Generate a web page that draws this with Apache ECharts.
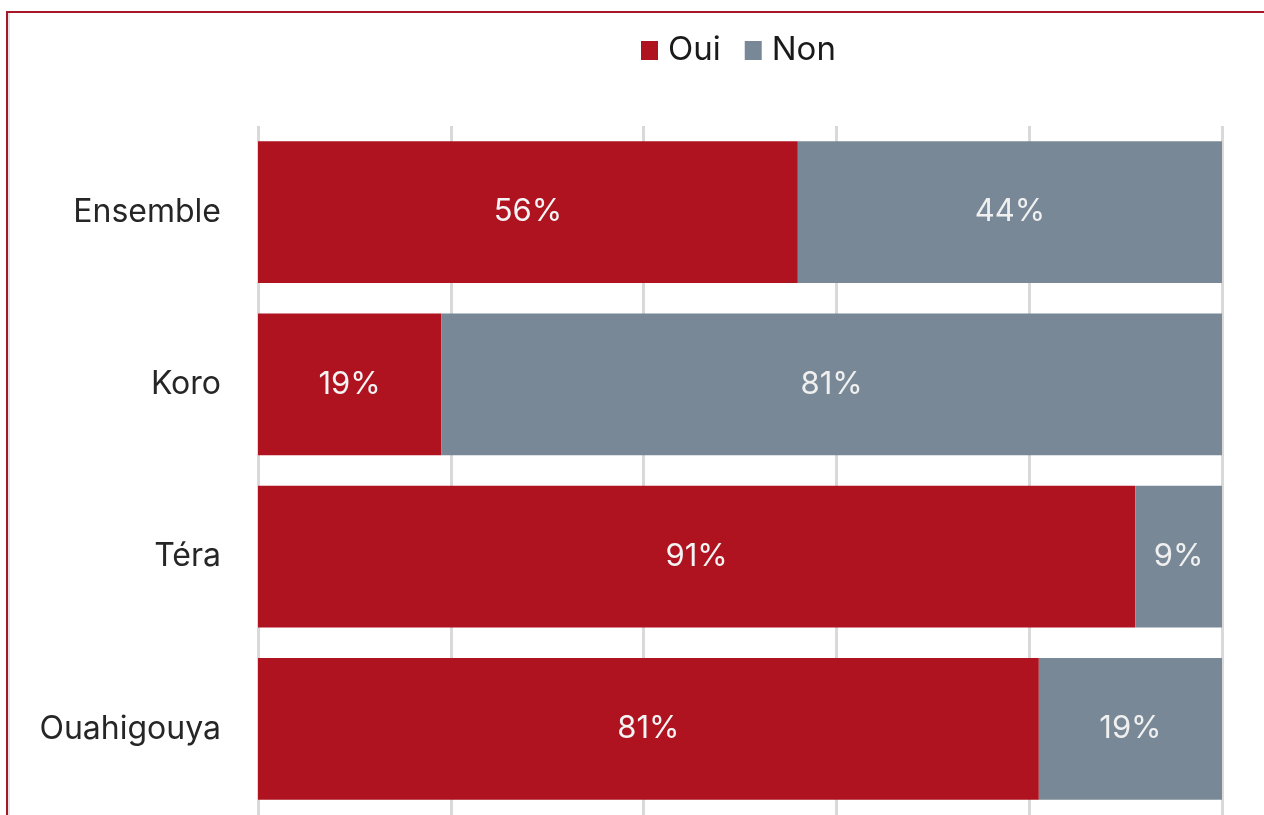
<!DOCTYPE html>
<html>
<head>
<meta charset="utf-8">
<script src="https://cdn.jsdelivr.net/npm/echarts@6/dist/echarts.min.js"></script>
<style>
	html, body { margin: 0; padding: 0; background: #fff; }
	#wrap { position: relative; width: 1264px; height: 815px; overflow: hidden; }
	#cadre { position: absolute; left: 6px; top: 11px; right: -4px; bottom: -4px;
		border-top: 2px solid #a8162a; border-left: 2px solid #a8162a; }
	#cadre2 { position: absolute; left: 8px; top: 13px; width: 2px; bottom: 0; background: #e4e4e4; }
	#ec1 { position: absolute; left: 0; top: 0; width: 1264px; height: 815px; }
</style>
</head>
<body>
<div id="wrap">
	<div id="cadre"></div>
	<div id="cadre2"></div>
	<div id="ec1"></div>
</div>
<script>
// zones (du haut vers le bas)
var zones = ['Ensemble', 'Koro', 'Téra', 'Ouahigouya'];
var oui = [56, 19, 91, 81];
var non = [44, 81, 9, 19];

reponses();

function reponses(){
	var myCharts = echarts.init(document.getElementById('ec1'));
	var police = 'Inter, "Noto Sans", sans-serif';
	option = {
		animation: false,
		textStyle: { fontFamily: police },
		legend: {
			left: 636,
			top: 29,
			itemWidth: 17,
			itemHeight: 19,
			itemGap: 24,
			icon: 'rect',
			textStyle: { fontSize: 33, color: '#1a1a1a', fontFamily: police, padding: [0, 0, 0, 5] },
			data: ['Oui', 'Non']
		},
		grid: {
			left: 258,
			right: 42,
			top: 126,
			height: 690,
			containLabel: false
		},
		xAxis: {
			type: 'value',
			min: 0,
			max: 100,
			interval: 20,
			axisLabel: { show: false },
			axisLine: { show: false },
			axisTick: { show: false },
			splitLine: { lineStyle: { color: '#d9d9d9', width: 3 } }
		},
		yAxis: {
			type: 'category',
			inverse: true,
			data: zones,
			axisLine: { show: false },
			axisTick: { show: false },
			axisLabel: { fontSize: 32, color: '#262626', margin: 37, fontFamily: police }
		},
		series: [
			{
				name: 'Oui',
				type: 'bar',
				stack: 'total',
				barCategoryGap: '17.7%',
				itemStyle: { color: '#ae131f' },
				label: {
					show: true,
					position: 'inside',
					formatter: '{c}%',
					fontSize: 31,
					color: '#f4f4f4',
					fontFamily: police
				},
				data: oui
			},
			{
				name: 'Non',
				type: 'bar',
				stack: 'total',
				itemStyle: { color: '#788896' },
				label: {
					show: true,
					position: 'inside',
					formatter: '{c}%',
					fontSize: 31,
					color: '#f0f0f0',
					fontFamily: police
				},
				data: non
			}
		]
	};
	myCharts.setOption(option);
}
</script>
</body>
</html>
